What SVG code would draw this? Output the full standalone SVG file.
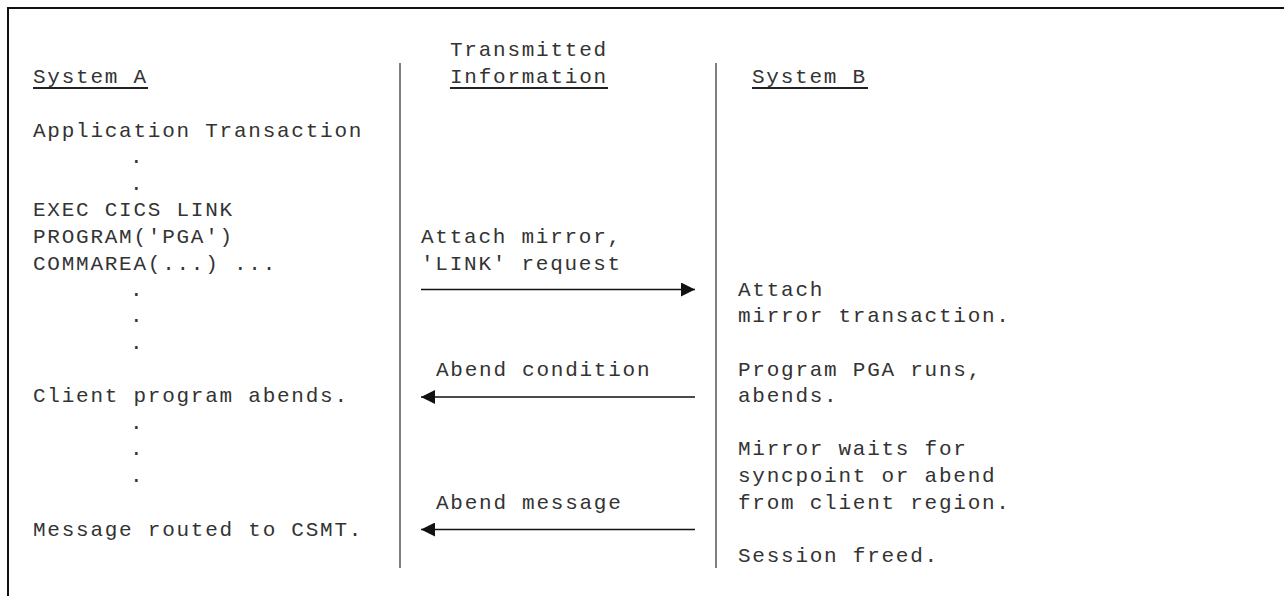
<svg xmlns="http://www.w3.org/2000/svg" width="1284" height="596" viewBox="0 0 1284 596">
<style>
  text { font-family: "Liberation Mono", "DejaVu Sans Mono", monospace; font-size: 21px; letter-spacing: 1.75px; fill: #333; }
  .ul { stroke: #222; stroke-width: 2; }
  .col { stroke: #555; stroke-width: 1.5; }
  .arr { stroke: #111; stroke-width: 1.5; fill: none; }
</style>
<defs>
  <marker id="ah" viewBox="0 0 14 14" refX="14" refY="7" markerWidth="14" markerHeight="14" markerUnits="userSpaceOnUse" orient="auto">
    <path d="M0,0 L14,7 L0,14 Z" fill="#111"/>
  </marker>
</defs>
<rect width="1284" height="596" fill="#fff"/>
<g id="frame">
  <path d="M8,596 L8,8 L1284,8" fill="none" stroke="#111" stroke-width="2"/>
</g>
<g id="columns">
  <line class="col" x1="400" y1="63" x2="400" y2="568"/>
  <line class="col" x1="716" y1="63" x2="716" y2="568"/>
</g>
<g id="systemA">
  <text x="33" y="83">System A</text>
  <line class="ul" x1="33" y1="88" x2="148" y2="88"/>
  <text x="33" y="137">Application Transaction</text>
  <text x="130" y="163">.</text>
  <text x="130" y="190">.</text>
  <text x="33" y="216">EXEC CICS LINK</text>
  <text x="33" y="243">PROGRAM('PGA')</text>
  <text x="33" y="270">COMMAREA(...) ...</text>
  <text x="130" y="296">.</text>
  <text x="130" y="322">.</text>
  <text x="130" y="349">.</text>
  <text x="33" y="402">Client program abends.</text>
  <text x="130" y="429">.</text>
  <text x="130" y="455">.</text>
  <text x="130" y="482">.</text>
  <text x="33" y="536">Message routed to CSMT.</text>
</g>
<g id="transmitted">
  <text x="450" y="56">Transmitted</text>
  <text x="450" y="83">Information</text>
  <line class="ul" x1="450" y1="88" x2="608" y2="88"/>
  <text x="421" y="243">Attach mirror,</text>
  <text x="421" y="270">'LINK' request</text>
  <text x="436" y="376">Abend condition</text>
  <text x="436" y="509">Abend message</text>
</g>
<g id="systemB">
  <text x="752" y="83">System B</text>
  <line class="ul" x1="752" y1="88" x2="868" y2="88"/>
  <text x="738" y="296">Attach</text>
  <text x="738" y="322">mirror transaction.</text>
  <text x="738" y="376">Program PGA runs,</text>
  <text x="738" y="402">abends.</text>
  <text x="738" y="455">Mirror waits for</text>
  <text x="738" y="482">syncpoint or abend</text>
  <text x="738" y="509">from client region.</text>
  <text x="738" y="562">Session freed.</text>
</g>
<g id="connectors">
  <line class="arr" x1="421" y1="289.5" x2="695" y2="289.5" marker-end="url(#ah)"/>
  <line class="arr" x1="695" y1="397" x2="421" y2="397" marker-end="url(#ah)"/>
  <line class="arr" x1="695" y1="529.5" x2="421" y2="529.5" marker-end="url(#ah)"/>
</g>
</svg>
